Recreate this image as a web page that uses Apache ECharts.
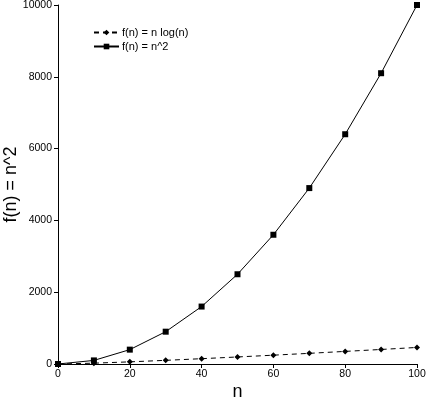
<!DOCTYPE html>
<html><head><meta charset="utf-8">
<script src="https://cdn.jsdelivr.net/npm/echarts@6/dist/echarts.min.js"></script>
<style>html,body{margin:0;padding:0;background:#fff}#c{width:427px;height:398px}</style>
</head><body><div id="c"></div>
<script>
const nValues = [0,10,20,30,40,50,60,70,80,90,100];
const nLogN = [0,23,60,102,148,196,246,297,351,405,461];
const nSquared = [0,100,400,900,1600,2500,3600,4900,6400,8100,10000];
const seriesNames = ['f(n) = n log(n)','f(n) = n^2'];
const font = 'Liberation Sans';
const chart = echarts.init(document.getElementById('c'), null, {renderer:'canvas'});
chart.setOption({
  backgroundColor:'#fff',
  animation:false,
  grid:{left:58,right:10,top:5,bottom:34,containLabel:false,outerBoundsMode:'none'},
  legend:{
    left:88, top:22, orient:'vertical', itemGap:3, itemWidth:25, itemHeight:7,
    textStyle:{fontFamily:font,fontSize:11,color:'#000',padding:[0,0,0,-2]},
    data:seriesNames
  },
  xAxis:{
    type:'value', min:0, max:100, interval:20,
    name:'n', nameLocation:'middle', nameGap:19, nameMoveOverlap:false,
    nameTextStyle:{fontFamily:font,fontSize:18,color:'#000'},
    axisLine:{show:true,onZero:false,lineStyle:{color:'#000',width:1}},
    axisTick:{show:true,length:4,lineStyle:{color:'#000'}},
    axisLabel:{fontFamily:font,fontSize:10.5,color:'#000',margin:5,formatter:v=>String(v)},
    splitLine:{show:false}
  },
  yAxis:{
    type:'value', min:0, max:10000, interval:2000,
    name:'f(n) = n^2', nameLocation:'middle', nameGap:38, nameRotate:90, nameMoveOverlap:false,
    nameTextStyle:{fontFamily:font,fontSize:18,color:'#000'},
    axisLine:{show:true,lineStyle:{color:'#000',width:1}},
    axisTick:{show:true,length:4,lineStyle:{color:'#000'}},
    axisLabel:{fontFamily:font,fontSize:10.5,color:'#000',margin:6,formatter:v=>String(v)},
    splitLine:{show:false}
  },
  series:[
    {name:seriesNames[0], type:'line', data:nValues.map((x,i)=>[x,nLogN[i]]),
     symbol:'diamond', symbolSize:6, showAllSymbol:true,
     lineStyle:{color:'#000',width:1,type:[5,4]}, itemStyle:{color:'#000'}},
    {name:seriesNames[1], type:'line', data:nValues.map((x,i)=>[x,nSquared[i]]),
     symbol:'rect', symbolSize:6, showAllSymbol:true,
     lineStyle:{color:'#000',width:1}, itemStyle:{color:'#000'}}
  ]
});
</script></body></html>
